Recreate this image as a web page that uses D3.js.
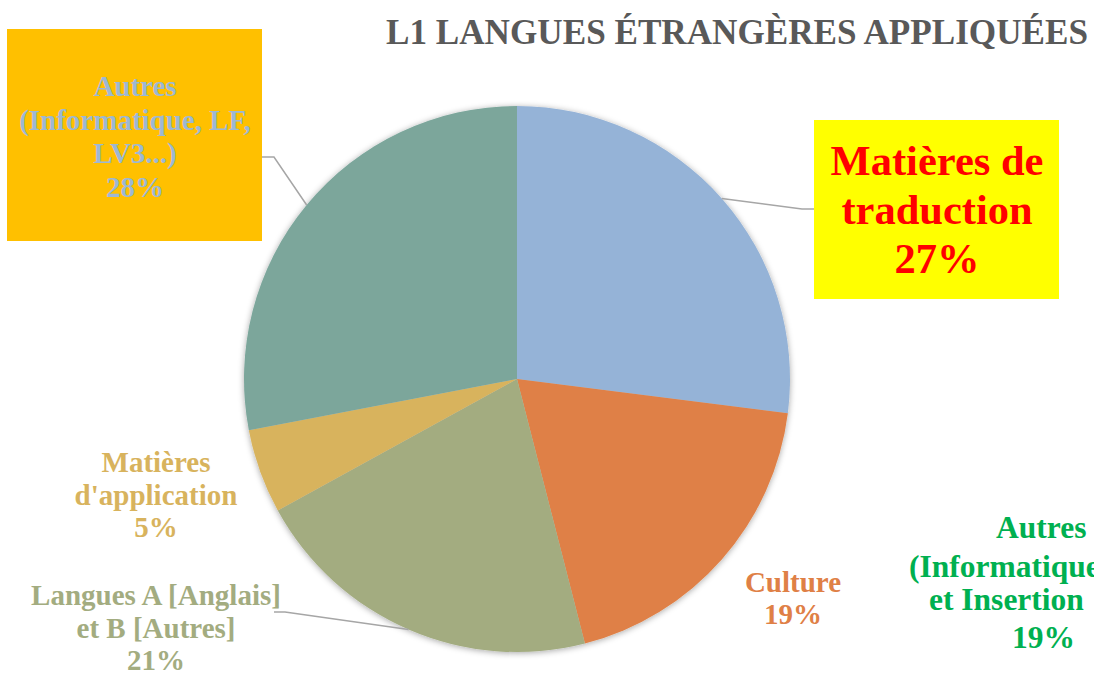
<!DOCTYPE html>
<html>
<head>
<meta charset="utf-8">
<script src="https://cdn.jsdelivr.net/npm/d3@7"></script>
<style>
  body { margin: 0; background: #fff; font-family: "Liberation Serif", Tinos, "Times New Roman", serif; }
  svg { display: block; }
  svg text { font-family: "Liberation Serif", Tinos, "Times New Roman", serif; font-weight: 700; }
</style>
</head>
<body>
<div class="chart"></div>
<script>
// -----------------------------------------------------------------------
// Data
// -----------------------------------------------------------------------

const TITLE = "L1 LANGUES ÉTRANGÈRES APPLIQUÉES";
const FONT = "Liberation Serif, Tinos, Times New Roman, serif";

// slices, clockwise from 12 o'clock
const categories = [
  "Matières de traduction",
  "Culture",
  "Langues A [Anglais] et B [Autres]",
  "Matières d'application",
  "Autres (Informatique, LF, LV3...)"
];
const values = [27, 19, 21, 5, 28];
const sliceColors = ["#95B3D7", "#DF8046", "#A3AC80", "#D8B35D", "#7BA69B"];

// label text, split in lines
const labelLines = [
  ["Matières de", "traduction", "27%"],
  ["Culture", "19%"],
  ["Langues A [Anglais]", "et B [Autres]", "21%"],
  ["Matières", "d'application", "5%"],
  ["Autres", "(Informatique, LF,", "LV3...)", "28%"]
];

// stray label sitting at the bottom right
const extraLines = ["Autres", "(Informatique", "et Insertion", "19%"];

// -----------------------------------------------------------------------
// Layout
// -----------------------------------------------------------------------

const WIDTH = 1094;
const HEIGHT = 675;
const CX = 517, CY = 379, RADIUS = 273;

const svg = d3.select(".chart")
  .append("svg")
  .attr("width", WIDTH)
  .attr("height", HEIGHT)
  .attr("font-family", FONT)
  .attr("font-weight", 700);

// soft shadow around the pie
const defs = svg.append("defs");
const shadow = defs.append("filter")
  .attr("id", "shadow")
  .attr("x", "-10%").attr("y", "-10%")
  .attr("width", "120%").attr("height", "120%");
shadow.append("feDropShadow")
  .attr("dx", 0).attr("dy", 1)
  .attr("stdDeviation", 3)
  .attr("flood-color", "#000")
  .attr("flood-opacity", 0.35);

// title
svg.append("text")
  .attr("x", 386)
  .attr("y", 44)
  .attr("font-size", 35)
  .attr("fill", "#595959")
  .attr("textLength", 702)
  .attr("lengthAdjust", "spacingAndGlyphs")
  .text(TITLE);

// -----------------------------------------------------------------------
// Pie
// -----------------------------------------------------------------------

const pie = d3.pie().sort(null).value(d => d)(values);
const arc = d3.arc().innerRadius(0).outerRadius(RADIUS);
const colorScale = d3.scaleOrdinal().domain(categories).range(sliceColors);

svg.append("g")
  .attr("class", "slices")
  .attr("transform", `translate(${CX}, ${CY})`)
  .attr("filter", "url(#shadow)")
  .selectAll("path")
  .data(pie)
  .join("path")
  .attr("d", arc)
  .attr("fill", (d, i) => colorScale(categories[i]));

// -----------------------------------------------------------------------
// Labels and leader lines
// -----------------------------------------------------------------------

// boxes, line positions, and styles per label
const labelSpecs = [
  { x: 937, y: 175, size: 42.5, step: 49, color: "#FF0000",
    box: [814, 120, 245, 179, "#FFFF00"],
    leader: [[814, 209], [802, 209]] },
  { x: 793, y: 592, size: 29, step: 32, color: "#DF8046" },
  { x: 156, y: 605, size: 29, step: 32.5, color: "#A3AC80",
    leader: [[274, 612], [285, 612]] },
  { x: 156, y: 472, size: 29, step: 32.5, color: "#D8B35D" },
  { x: 135, y: 96, size: 29, step: 33.5, color: "#9DB8D3",
    box: [7, 29, 255, 212, "#FFC000"],
    leader: [[262, 157], [274, 157]] }
];

const labels = svg.append("g").attr("class", "labels");
const leaders = svg.append("g").attr("class", "leaders");

pie.forEach((d, i) => {
  const spec = labelSpecs[i];
  if (spec.box) {
    labels.append("rect")
      .attr("x", spec.box[0]).attr("y", spec.box[1])
      .attr("width", spec.box[2]).attr("height", spec.box[3])
      .attr("fill", spec.box[4]);
  }
  if (spec.leader) {
    // leader ends on the edge of the slice, at its mid-angle
    const mid = (d.startAngle + d.endAngle) / 2;
    const edge = [CX + RADIUS * Math.sin(mid), CY - RADIUS * Math.cos(mid)];
    leaders.append("path")
      .attr("d", d3.line()([...spec.leader, edge]))
      .attr("fill", "none")
      .attr("stroke", "#A6A6A6")
      .attr("stroke-width", 1.5);
  }
  const t = labels.append("text")
    .attr("text-anchor", "middle")
    .attr("font-size", spec.size)
    .attr("fill", spec.color);
  labelLines[i].forEach((line, j) => {
    t.append("tspan")
      .attr("x", spec.x)
      .attr("y", spec.y + j * spec.step)
      .text(line);
  });
});

// the green label at the right edge
const extraPos = [[996, 538], [909, 577], [929, 610], [1012, 648]];
svg.append("g")
  .attr("class", "extra")
  .selectAll("text")
  .data(extraLines)
  .join("text")
  .attr("x", (d, i) => extraPos[i][0])
  .attr("y", (d, i) => extraPos[i][1])
  .attr("font-size", 31.5)
  .attr("fill", "#00B050")
  .text(d => d);
</script>
</body>
</html>
